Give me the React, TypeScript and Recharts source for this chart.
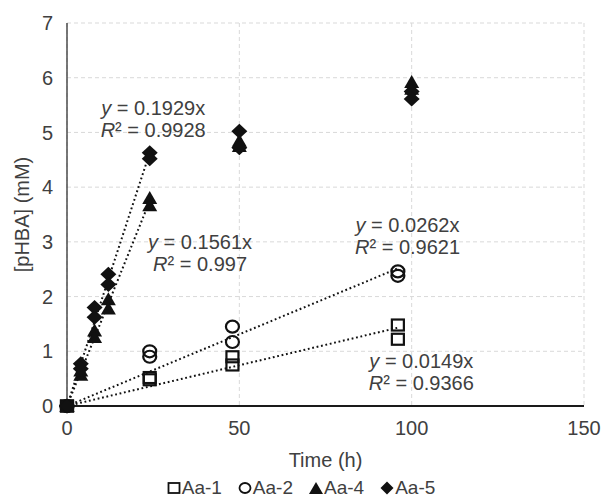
import React from "react";
import {
  ScatterChart,
  Scatter,
  XAxis,
  YAxis,
  CartesianGrid,
  ReferenceLine,
  ReferenceDot,
} from "recharts";

// ---- data ----
const aa1Hours = [0, 0, 24, 24, 48, 48, 96, 96];
const aa1Conc = [0, 0, 0.52, 0.48, 0.9, 0.75, 1.48, 1.22];

const aa2Hours = [0, 0, 24, 24, 48, 48, 96, 96];
const aa2Conc = [0, 0, 1.0, 0.9, 1.45, 1.17, 2.46, 2.38];

const aa4Hours = [0, 0, 4, 4, 8, 8, 12, 12, 24, 24, 50, 50, 100, 100];
const aa4Conc = [0, 0, 0.57, 0.65, 1.38, 1.26, 1.95, 1.78, 3.8, 3.67, 4.85, 4.75, 5.92, 5.8];

const aa5Hours = [0, 0, 4, 4, 8, 8, 12, 12, 24, 24, 50, 50, 100, 100];
const aa5Conc = [0, 0, 0.77, 0.68, 1.8, 1.62, 2.41, 2.22, 4.63, 4.52, 5.02, 4.72, 5.75, 5.61];

// trendlines (linear, through origin)
const trendNames = ["Aa-1", "Aa-2", "Aa-4", "Aa-5"];
const trendSlopes = [0.0149, 0.0262, 0.1561, 0.1929];
const trendEnds = [96, 96, 24, 24];
const trendR2 = ["0.9366", "0.9621", "0.997", "0.9928"];
// annotation anchor (data coordinates)
const labelX = [102.8, 98.8, 38.6, 25.0];
const labelY = [0.615, 3.1, 2.79, 5.24];

const xTicks = [0, 50, 100, 150];
const yTicks = [0, 1, 2, 3, 4, 5, 6, 7];

const seriesNames = ["Aa-1", "Aa-2", "Aa-4", "Aa-5"];

const toPoints = (xs: number[], ys: number[]) => xs.map((x, i) => ({ x, y: ys[i] }));

const aa1Data = toPoints(aa1Hours, aa1Conc);
const aa2Data = toPoints(aa2Hours, aa2Conc);
const aa4Data = toPoints(aa4Hours, aa4Conc);
const aa5Data = toPoints(aa5Hours, aa5Conc);

const FONT = "'Liberation Sans', Arial, sans-serif";
const TEXT = "#404040";
const FS = 20;
const MARK = "#111";

const SquareShape = (p: any) => (
  <rect x={p.cx - 6} y={p.cy - 5.5} width={12} height={11} fill="none" stroke={MARK} strokeWidth={2.2} />
);
const CircleShape = (p: any) => (
  <ellipse cx={p.cx} cy={p.cy} rx={6.5} ry={6} fill="none" stroke={MARK} strokeWidth={2.2} />
);
const TriangleShape = (p: any) => (
  <polygon
    points={`${p.cx},${p.cy - 7} ${p.cx + 7.5},${p.cy + 6} ${p.cx - 7.5},${p.cy + 6}`}
    fill={MARK}
  />
);
const DiamondShape = (p: any) => (
  <polygon
    points={`${p.cx},${p.cy - 7.5} ${p.cx + 8},${p.cy} ${p.cx},${p.cy + 7.5} ${p.cx - 8},${p.cy}`}
    fill={MARK}
  />
);

const makeAnnotation = (i: number) => (p: any) => {
  const x = p.cx;
  const y = p.cy;
  return (
    <g fontFamily={FONT} fontSize={FS} fill={TEXT}>
      <text x={x} y={y - 11} textAnchor="middle" dominantBaseline="central">
        <tspan fontStyle="italic">y</tspan>
        <tspan>{` = ${trendSlopes[i]}x`}</tspan>
      </text>
      <text x={x} y={y + 11} textAnchor="middle" dominantBaseline="central">
        <tspan fontStyle="italic">R</tspan>
        <tspan>{`² = ${trendR2[i]}`}</tspan>
      </text>
    </g>
  );
};

const LegendMarker = ({ kind }: { kind: number }) => (
  <svg width={14} height={14} style={{ display: "block" }}>
    {kind === 0 && <rect x={1.5} y={2} width={11} height={10} fill="none" stroke={MARK} strokeWidth={1.8} />}
    {kind === 1 && <ellipse cx={7} cy={7} rx={5.5} ry={5} fill="none" stroke={MARK} strokeWidth={1.8} />}
    {kind === 2 && <polygon points="7,1 14,13 0,13" fill={MARK} />}
    {kind === 3 && <polygon points="7,0.5 13.5,7 7,13.5 0.5,7" fill={MARK} />}
  </svg>
);

export default function App() {
  return (
    <div style={{ position: "absolute", left: 0, top: 0, width: 602, height: 498, background: "#fff", overflow: "hidden" }}>
      <ScatterChart
        width={602}
        height={498}
        margin={{ top: 23, right: 18, bottom: 0, left: 0 }}
        style={{ fontFamily: FONT }}
      >
        <CartesianGrid
          stroke="#d9d9d9"
          strokeDasharray="4 3"
          horizontal={true}
          vertical={true}
        />
        <XAxis
          type="number"
          dataKey="x"
          domain={[0, 150]}
          ticks={xTicks}
          height={92}
          tickLine={false}
          tickSize={0}
          tickMargin={15}
          axisLine={{ stroke: "#1a1a1a", strokeWidth: 2.2 }}
          tick={{ fill: TEXT, fontSize: FS, fontFamily: FONT }}
          label={{
            value: "Time (h)",
            position: "insideBottom",
            offset: 31,
            style: { fill: TEXT, fontSize: FS, fontFamily: FONT },
          }}
        />
        <YAxis
          type="number"
          dataKey="y"
          domain={[0, 7]}
          ticks={yTicks}
          width={67}
          tickLine={false}
          tickSize={0}
          tickMargin={14}
          axisLine={{ stroke: "#404040", strokeWidth: 1.4 }}
          tick={{ fill: TEXT, fontSize: FS, fontFamily: FONT }}
          label={{
            value: "[pHBA] (mM)",
            angle: -90,
            position: "insideLeft",
            offset: 22,
            style: { fill: TEXT, fontSize: FS, fontFamily: FONT, textAnchor: "middle" },
          }}
        />
        <Scatter name={seriesNames[0]} data={aa1Data} shape={SquareShape} isAnimationActive={false} />
        <Scatter name={seriesNames[1]} data={aa2Data} shape={CircleShape} isAnimationActive={false} />
        <Scatter name={seriesNames[2]} data={aa4Data} shape={TriangleShape} isAnimationActive={false} />
        <Scatter name={seriesNames[3]} data={aa5Data} shape={DiamondShape} isAnimationActive={false} />
        {trendNames.map((n, i) => (
          <ReferenceLine
            key={n}
            segment={[
              { x: 0, y: 0 },
              { x: trendEnds[i], y: trendSlopes[i] * trendEnds[i] },
            ]}
            stroke="#111"
            strokeWidth={2}
            strokeDasharray="1.8 2.7"
          />
        ))}
        {trendNames.map((n, i) => (
          <ReferenceDot key={"lab" + n} x={labelX[i]} y={labelY[i]} r={0} shape={makeAnnotation(i)} />
        ))}
      </ScatterChart>
      <div
        style={{
          position: "absolute",
          left: 0,
          top: 478,
          width: 602,
          height: 19,
          display: "flex",
          justifyContent: "center",
          alignItems: "center",
          gap: 16,
          fontFamily: FONT,
          fontSize: 19,
          color: TEXT,
          lineHeight: "19px",
        }}
      >
        {seriesNames.map((n, i) => (
          <div key={n} style={{ display: "flex", alignItems: "center", gap: 1, height: 19 }}>
            <LegendMarker kind={i} />
            <span style={{ lineHeight: "19px" }}>{n}</span>
          </div>
        ))}
      </div>
    </div>
  );
}
